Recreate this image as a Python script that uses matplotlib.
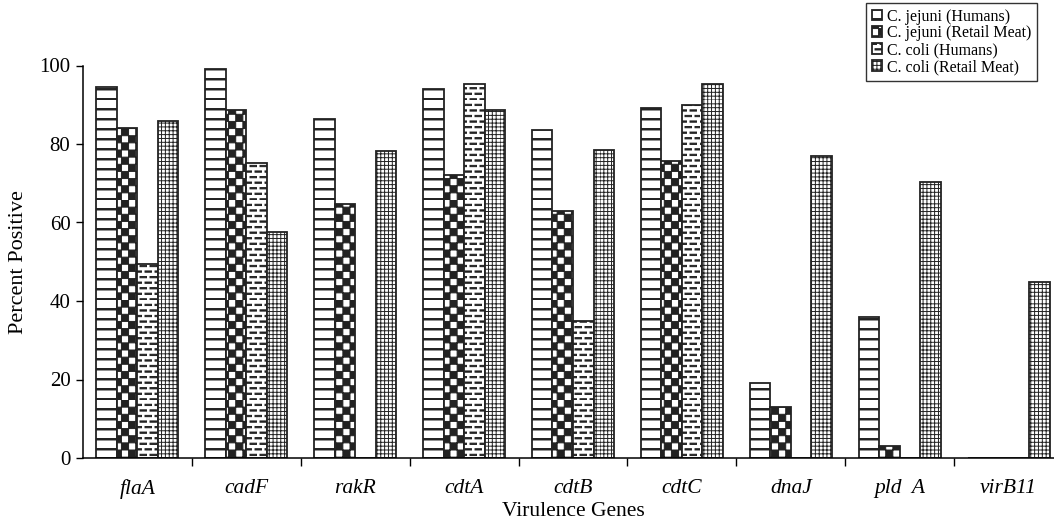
import numpy as np
import matplotlib
matplotlib.use("Agg")
import matplotlib.pyplot as plt
import matplotlib.hatch as mhatch
from matplotlib.path import Path

plt.rcParams['font.family'] = ['Liberation Serif', 'DejaVu Serif']
plt.rcParams['hatch.linewidth'] = 0.7
plt.rcParams['hatch.color'] = 'black'

genes = ['flaA', 'cadF', 'rakR', 'cdtA', 'cdtB', 'cdtC', 'dnaJ', 'pld  A', 'virB11']
series = ['C. jejuni (Humans)', 'C. jejuni (Retail Meat)',
          'C. coli (Humans)', 'C. coli (Retail Meat)']
jejuni_humans = [94.6, 99.2, 86.3, 94.0, 83.5, 89.2, 19.0, 35.8, 0]
jejuni_meat = [84.2, 88.7, 64.8, 72.0, 63.0, 75.7, 12.9, 3.1, 0]
coli_humans = [49.5, 75.2, 0, 95.2, 35.0, 90.0, 0, 0, 0]
coli_meat = [85.9, 57.5, 78.2, 88.7, 78.4, 95.2, 76.9, 70.4, 44.8]
yticks = [0, 20, 40, 60, 80, 100]


# hand-made hatch patterns (stripes, checkers, bricks of dashes, fine grid)
MOVE, LINE, CLOSE = Path.MOVETO, Path.LINETO, Path.CLOSEPOLY


def rects(vertices, codes, boxes):
    for i, (x0, y0, x1, y1) in enumerate(boxes):
        vertices[i*5:(i+1)*5] = [(x0, y0), (x1, y0), (x1, y1), (x0, y1), (x0, y0)]
        codes[i*5:(i+1)*5] = [MOVE, LINE, LINE, LINE, CLOSE]


class Stripes(mhatch.HatchPatternBase):
    def __init__(self, hatch, density):
        self.n = 10 if '-' in hatch else 0
        self.num_vertices = self.n * 5

    def set_vertices_and_codes(self, vertices, codes):
        rects(vertices, codes, [(0, k/self.n, 1, k/self.n + 0.015) for k in range(self.n)])


class Checker(mhatch.HatchPatternBase):
    def __init__(self, hatch, density):
        self.n = 14 if 'x' in hatch else 0
        self.num_vertices = (self.n * self.n // 2) * 5

    def set_vertices_and_codes(self, vertices, codes):
        s = 1 / max(self.n, 1)
        boxes = [(i*s, j*s, (i+1)*s, (j+1)*s)
                 for i in range(self.n) for j in range(self.n) if (i + j) % 2 == 0]
        rects(vertices, codes, boxes)


class Dashes(mhatch.HatchPatternBase):
    def __init__(self, hatch, density):
        self.rows = 18 if '.' in hatch else 0
        self.cols = 10
        self.num_vertices = self.rows * self.cols * 5

    def set_vertices_and_codes(self, vertices, codes):
        boxes = []
        for r in range(self.rows):
            y = r / max(self.rows, 1)
            off = 0.05 if r % 2 else 0.0
            for c in range(self.cols):
                x = (c / self.cols + off) % 1.0
                boxes.append((x, y, min(x + 0.065, 1.0), y + 0.013))
        rects(vertices, codes, boxes)


class Grid(mhatch.HatchPatternBase):
    def __init__(self, hatch, density):
        self.n = 26 if '+' in hatch else 0
        self.num_vertices = self.n * 4

    def set_vertices_and_codes(self, vertices, codes):
        k = 0
        for i in range(self.n):
            t = i / self.n
            vertices[k:k+4] = [(0, t), (1, t), (t, 0), (t, 1)]
            codes[k:k+4] = [MOVE, LINE, MOVE, LINE]
            k += 4


mhatch._hatch_types = [Stripes, Checker, Dashes, Grid]
hatches = ['-', 'x', '.', '+']

fig = plt.figure(figsize=(10.54, 5.2), dpi=100)
ax = fig.add_axes([83/1054, 62/520, 980/1054, 392.5/520])

x = np.arange(len(genes))
w = 0.1885
for k, vals in enumerate([jejuni_humans, jejuni_meat, coli_humans, coli_meat]):
    ax.bar(x + (k - 1.5) * w, vals, w, color='white', edgecolor='#222222',
           linewidth=1.3, hatch=hatches[k], label=series[k])

ax.set_xlim(-0.5, len(genes) - 0.5)
ax.set_ylim(0, 100)
ax.set_yticks(yticks)
ax.tick_params(axis='y', direction='out', length=5, width=1, labelsize=15, pad=4)
ax.set_xticks(x)
ax.set_xticklabels(genes, fontstyle='italic', fontsize=15.5)
ax.tick_params(axis='x', which='major', length=0, pad=15)
ax.set_xticks(x[:-1] + 0.5, minor=True)
ax.tick_params(axis='x', which='minor', direction='out', length=6, width=1)
for s in ['top', 'right']:
    ax.spines[s].set_visible(False)
ax.spines['left'].set_linewidth(1.1)
ax.spines['bottom'].set_linewidth(1.1)

ax.set_xlabel('Virulence Genes', fontsize=15.5, labelpad=2)
ax.set_ylabel('Percent Positive', fontsize=16, labelpad=8)

leg = fig.legend(loc='upper right', bbox_to_anchor=(1037/1054, 1 - 3/520),
                 borderaxespad=0, fontsize=11.5, frameon=True, fancybox=False,
                 edgecolor='black', handlelength=0.65, handleheight=0.65,
                 handletextpad=0.3, labelspacing=0.05, borderpad=0.35)
leg.get_frame().set_linewidth(1.0)

fig.savefig('out.png', dpi=100)
